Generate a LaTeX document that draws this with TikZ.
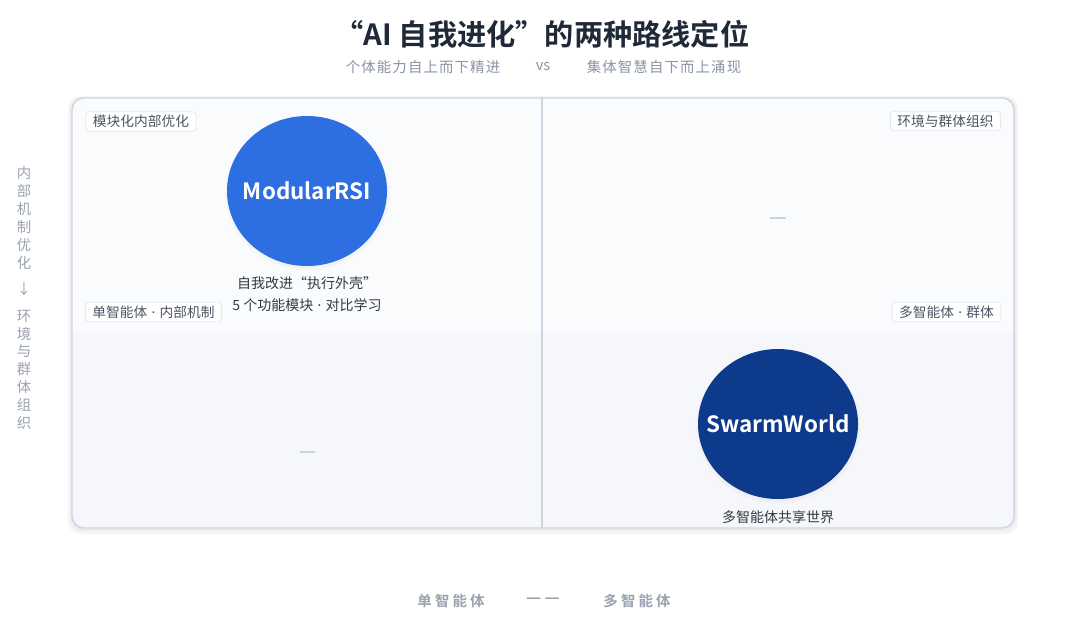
\documentclass[tikz,border=0pt]{standalone}
\usepackage{fontspec}
\setmainfont{Noto Sans CJK SC}
\newfontfamily\cjkbold{Noto Sans CJK SC Bold}
\newfontfamily\latinf{Noto Sans}
\newcommand{\mdot}{\hspace{3.2pt}{\latinf ·}\hspace{3.2pt}}
\usetikzlibrary{shadows,shapes.geometric}
\definecolor{bordercol}{HTML}{CDD6E2}
\definecolor{topfill}{HTML}{FAFBFD}
\definecolor{botfill}{HTML}{F5F7FA}
\definecolor{blueA}{HTML}{2D6EE0}
\definecolor{blueB}{HTML}{0E3A8C}
\definecolor{titlecol}{HTML}{1F2937}
\definecolor{subcol}{HTML}{8A94A6}
\definecolor{tagcol}{HTML}{4B5563}
\definecolor{tagborder}{HTML}{E2E8F0}
\definecolor{labelcol}{HTML}{333842}
\definecolor{axiscol}{HTML}{9AA3B0}
\definecolor{dashcol}{HTML}{C8D3E0}
\begin{document}
\begin{tikzpicture}[x=0.75pt,y=-0.75pt,
  tagbox/.style={draw=tagborder,line width=0.6pt,fill=white,rounded corners=2.5pt,
    inner xsep=5.2pt,inner ysep=2.6pt,text=tagcol,font=\fontsize{10.3pt}{11pt}\selectfont},
  bubble/.style={ellipse,minimum width=120pt,minimum height=112.5pt,inner sep=0pt,
    circular drop shadow={shadow xshift=0pt,shadow yshift=-1.5pt,shadow scale=1.04,opacity=0.18}},
  bubbletext/.style={text=white,inner sep=0pt,font=\cjkbold\fontsize{16.8pt}{18pt}\selectfont},
  caption/.style={text=labelcol,font=\fontsize{10.5pt}{12pt}\selectfont,inner sep=0pt},
  vchar/.style={text=axiscol,font=\fontsize{10.8pt}{12pt}\selectfont,inner sep=0pt},
  axislbl/.style={text=axiscol,font=\cjkbold\fontsize{10.8pt}{12pt}\selectfont\addfontfeature{LetterSpace=22},inner sep=0pt},
  dashmark/.style={draw=dashcol,line width=0.8pt}
]
\useasboundingbox (0,0) rectangle (1080,632);
\fill[white] (0,0) rectangle (1080,632);

% title
\node[text=titlecol,font=\cjkbold\fontsize{21.9pt}{24pt}\selectfont,inner sep=0pt] (title) at (542,34) {“AI 自我进化”的两种路线定位};
\node[text=subcol,font=\fontsize{10.8pt}{12pt}\selectfont\addfontfeature{LetterSpace=8},inner sep=0pt] (subL) at (423,67) {个体能力自上而下精进};
\node[text=subcol,font=\fontsize{11pt}{12pt}\selectfont,inner sep=0pt] (vs) at (543,67) {vs};
\node[text=subcol,font=\fontsize{10.8pt}{12pt}\selectfont\addfontfeature{LetterSpace=8},inner sep=0pt] (subR) at (664,67) {集体智慧自下而上涌现};

% frame with shadow
\fill[black,opacity=0.04,rounded corners=9pt] (68,96) rectangle (1018,534);
\fill[black,opacity=0.03,rounded corners=9pt] (70,97) rectangle (1016,531);
\begin{scope}
  \clip[rounded corners=9pt] (72,98) rectangle (1014,528);
  \fill[topfill] (72,98) rectangle (1014,333);
  \fill[botfill] (72,333) rectangle (1014,528);
\end{scope}
\draw[bordercol,line width=1.1pt,rounded corners=9pt] (72,98) rectangle (1014,528);
\coordinate (divTop) at (542,98);
\coordinate (divBot) at (542,528);
\draw[bordercol,line width=0.9pt] (divTop) -- (divBot);

% tags
\node[tagbox] (tagTL) at (141,121.5) {模块化内部优化};
\node[tagbox] (tagBL) at (153.5,312) {单智能体\mdot 内部机制};
\node[tagbox] (tagTR) at (945.5,121) {环境与群体组织};
\node[tagbox] (tagBR) at (946.5,312) {多智能体\mdot 群体};

% bubbles
\node[bubble,fill=blueA] (rsi) at (307,191) {};
\node[bubbletext] (rsiT) at (rsi.center) {ModularRSI};
\node[caption] (rsiA) at (307,283) {自我改进“执行外壳”};
\node[caption] (rsiB) at (307,305) {5 个功能模块\mdot 对比学习};

\node[bubble,fill=blueB] (swarm) at (778,424) {};
\node[bubbletext] (swarmT) at (swarm.center) {SwarmWorld};
\node[caption] (swarmA) at (778,517) {多智能体共享世界};

% empty quadrant marks
\coordinate (dTRa) at (770,218); \coordinate (dTRb) at (786,218);
\draw[dashmark] (dTRa) -- (dTRb);
\coordinate (dBLa) at (300,452); \coordinate (dBLb) at (315,452);
\draw[dashmark] (dBLa) -- (dBLb);

% vertical axis label
\foreach \c [count=\i from 0] in {内,部,机,制,优,化}
  \node[vchar] (vt\i) at (24,173+18*\i) {\c};
\node[vchar] (varrow) at (24,289) {↓};
\foreach \c [count=\i from 0] in {环,境,与,群,体,组,织}
  \node[vchar] (vb\i) at (24,316+17.8*\i) {\c};

% horizontal axis label
\node[axislbl] (axL) at (451,601) {单智能体};
\node[text=axiscol,font=\cjkbold\fontsize{12.5pt}{14pt}\selectfont,inner sep=0pt] (axM) at (543,601) {—\hspace{2.5pt}—};
\node[axislbl] (axR) at (637,601) {多智能体};
\end{tikzpicture}
\end{document}
